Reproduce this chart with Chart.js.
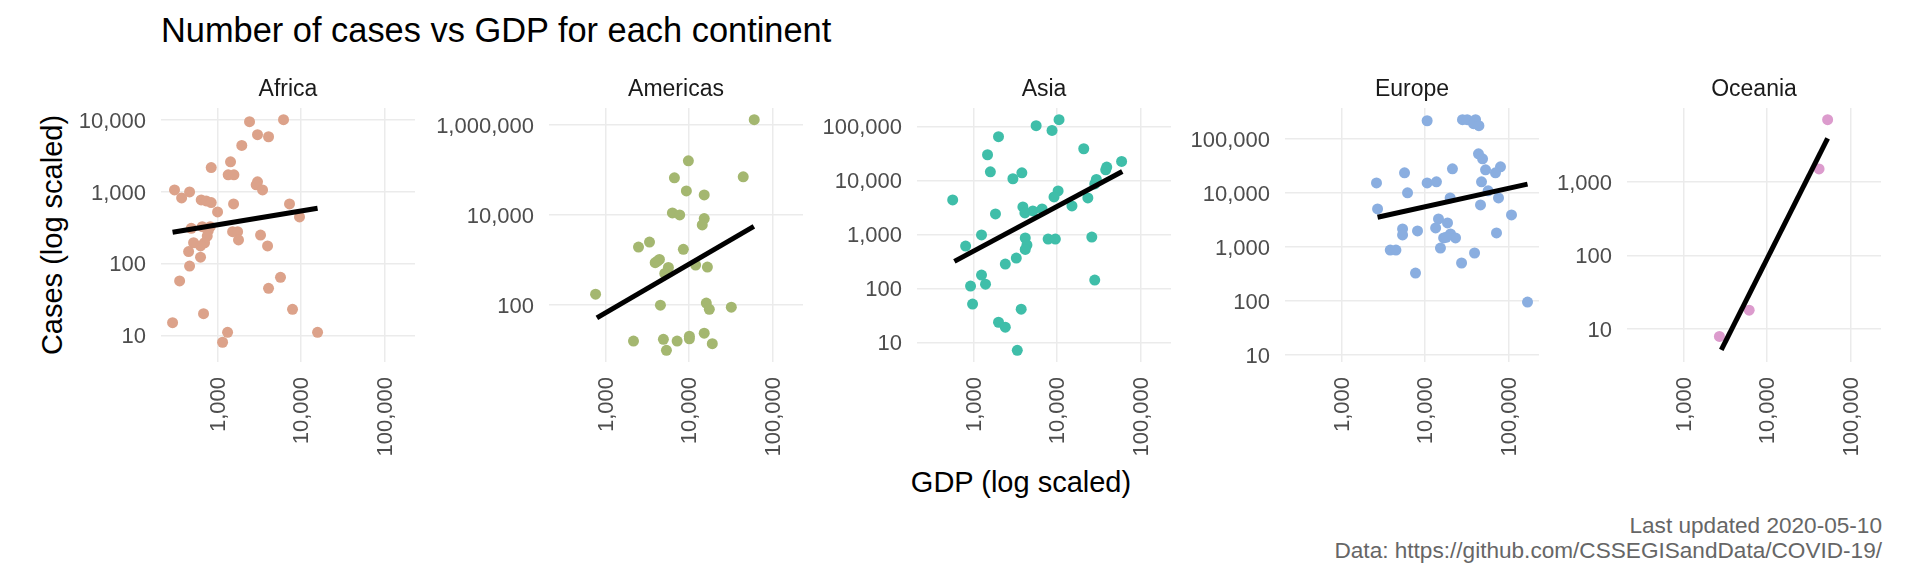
<!DOCTYPE html>
<html><head><meta charset="utf-8">
<script src="https://cdn.jsdelivr.net/npm/chart.js@4"></script>
<style>
html,body{margin:0;padding:0;background:#fff;width:1920px;height:576px;overflow:hidden;font-family:"Liberation Sans",Arial,sans-serif}
canvas{position:absolute}
.t{position:absolute;white-space:nowrap;line-height:1}
</style></head><body>
<div class="t" style="left:161px;top:13px;font-size:34.4px;color:#000">Number of cases vs GDP for each continent</div>
<div class="t" style="left:1021px;top:468px;font-size:29px;color:#000;transform:translateX(-50%)">GDP (log scaled)</div>
<div class="t" style="left:52px;top:235px;font-size:29px;color:#000;transform:translate(-50%,-50%) rotate(-90deg)">Cases (log scaled)</div>
<div class="t" style="right:38px;top:513px;font-size:22.6px;color:#666;text-align:right;line-height:25px">Last updated 2020-05-10<br>Data: https://github.com/CSSEGISandData/COVID-19/</div>
<script>
const panelNames = ["Africa","Americas","Asia","Europe","Oceania"];
const gdpTicks = [1000,10000,100000];
const gdpLimits = [210,232000];

const africaGdp = [2415,6170,3010,4080,1950,1430,839,1340,1570,3010,2900,3460,305,462,371,637,731,839,1555,7280,1000,9590,484,655,817,1514,1738,773,752,1782,3273,516,698,625,3972,450,625,462,351,5675,4080,7907,289,679,1318,1148,15780];
const africaCases = [9380,10000,6180,5790,4390,2590,2160,1710,1710,1365,1240,1055,1055,988,817,766,741,703,673,673,520,444,308,325,325,277,277,286,240,212,248,194,194,175,175,146,122,92,57,64,45,23,15,20,11,8,11];
const africaFitGdp = [289,15780];
const africaFitCases = [271,585];
const africaTicks = [10,100,1000,10000];
const africaLimits = [4.25,14550];

const americasGdp = [60400,9820,6680,44600,9290,15200,6320,7730,15200,14400,3360,2480,8550,4420,4190,3930,5660,5120,12000,16600,759,4540,16100,17500,32100,15200,10100,10100,7200,4930,2160,19000,5360];
const americasCases = [1291000,158500,66400,69800,34100,27800,11100,10000,8300,6000,2510,1945,1726,1035,950,873,687,506,774,698,175,100,111,81,90,24,20.5,18,16,17.5,16,14,10];
const americasFitGdp = [787,59800];
const americasFitCases = [52.4,5600];
const americasTicks = [100,10000,1000000];
const americasLimits = [5.5,2345000];

const asiaGdp = [10570,5620,8710,1990,20900,1470,59400,39400,38300,1590,3790,2960,29600,28300,10300,9200,562,23400,15100,3900,6620,5130,4120,1830,1245,4160,7820,9550,26100,803,4360,4160,3250,2400,1245,1390,920,28300,973,3720,1990,2400,3340];
const asiaCases = [133000,102900,84300,64300,38500,29800,22400,17600,15700,14400,13800,10700,10400,8600,6380,4930,4340,4730,3360,3220,2960,2710,2490,2390,973,855,818,818,891,607,634,526,363,281,176,119,110,142,51,41,23.5,19,7.1];
const asiaFitGdp = [589,60500];
const asiaFitCases = [315,14600];
const asiaTicks = [10,100,1000,10000,100000];
const asiaLimits = [4.31,219000];

const europeGdp = [10600,28100,32000,40300,38100,44200,43700,48900,21300,53100,80200,69800,5680,2620,10600,13700,47500,6170,57000,20000,75900,46200,2700,108600,14500,18600,5380,8130,13400,71800,5380,20200,16700,23200,17900,15300,3830,4480,39200,27400,7690,169000];
const europeCases = [215000,225000,225000,225000,189700,174000,52700,42600,27800,26700,30300,23500,23500,15300,15300,16000,16000,10000,10900,8070,8070,6000,5060,3920,3300,2780,2150,1980,2250,1815,1670,1740,1470,1470,1510,957,879,879,775,506,330,96];
const europeFitGdp = [2700,169000];
const europeFitCases = [3540,14500];
const europeTicks = [10,100,1000,10000,100000];
const europeLimits = [7.5,370000];

const oceaniaGdp = [53200,42000,6110,2690];
const oceaniaCases = [7000,1500,18,7.9];
const oceaniaFitGdp = [2830,53200];
const oceaniaFitCases = [5.2,3900];
const oceaniaTicks = [10,100,1000];
const oceaniaLimits = [3.55,10100];

const pairs = (xs,ys) => xs.map((x,i)=>({x,y:ys[i]}));
const fmt = v => Number(v).toLocaleString('en-US');
const FONT = '"Liberation Sans",Arial,sans-serif';
const LEFT_W = 160, PW = 254, TOP_H = 35, PH = 254, BOT_H = 130;

function panel(name,left,gdp,cases,fitG,fitC,yTicks,yLim,color){
  const c = document.createElement('canvas');
  c.width = LEFT_W+PW; c.height = TOP_H+PH+BOT_H;
  c.style.left = (left-LEFT_W)+'px'; c.style.top = '73px';
  c.style.width = c.width+'px'; c.style.height = c.height+'px';
  document.body.appendChild(c);
  const noPad = s => {s.paddingLeft=s.paddingRight=s.paddingTop=s.paddingBottom=0};
  new Chart(c,{
    type:'scatter',
    data:{datasets:[
      {data:pairs(fitG,fitC),showLine:true,borderColor:'#000',borderWidth:5,pointRadius:0,order:0,borderCapStyle:'butt'},
      {data:pairs(gdp,cases),backgroundColor:color,borderWidth:0,pointRadius:5.5,pointHoverRadius:5.5,order:1}
    ]},
    options:{
      responsive:false,animation:false,devicePixelRatio:1,
      layout:{padding:0,autoPadding:false},
      plugins:{
        legend:{display:false},tooltip:{enabled:false},
        title:{display:true,text:name,fullSize:false,color:'#1A1A1A',
          font:{family:FONT,size:23,weight:'normal',lineHeight:1},padding:{top:5,bottom:7}}
      },
      scales:{
        x:{type:'logarithmic',min:gdpLimits[0],max:gdpLimits[1],
          afterBuildTicks:s=>{s.ticks=gdpTicks.map(v=>({value:v,major:true}))},
          afterFit:s=>{s.height=BOT_H;noPad(s)},
          border:{display:false},
          grid:{color:'#EBEBEB',lineWidth:1.5,drawTicks:false},
          ticks:{callback:fmt,color:'#4D4D4D',font:{family:FONT,size:22},padding:15,labelOffset:1,
            minRotation:90,maxRotation:90,autoSkip:false}},
        y:{type:'logarithmic',min:yLim[0],max:yLim[1],
          afterBuildTicks:s=>{s.ticks=yTicks.map(v=>({value:v,major:true}))},
          afterFit:s=>{s.width=LEFT_W;noPad(s)},
          border:{display:false},
          grid:{color:'#EBEBEB',lineWidth:1.5,drawTicks:false},
          ticks:{callback:fmt,color:'#4D4D4D',font:{family:FONT,size:22},padding:15,labelOffset:2,autoSkip:false}}
      }
    }
  });
}
panel(panelNames[0],161,africaGdp,africaCases,africaFitGdp,africaFitCases,africaTicks,africaLimits,'#DCA28A');
panel(panelNames[1],549,americasGdp,americasCases,americasFitGdp,americasFitCases,americasTicks,americasLimits,'#A4B770');
panel(panelNames[2],917,asiaGdp,asiaCases,asiaFitGdp,asiaFitCases,asiaTicks,asiaLimits,'#3FBEA9');
panel(panelNames[3],1285,europeGdp,europeCases,europeFitGdp,europeFitCases,europeTicks,europeLimits,'#8AAEE0');
panel(panelNames[4],1627,oceaniaGdp,oceaniaCases,oceaniaFitGdp,oceaniaFitCases,oceaniaTicks,oceaniaLimits,'#DC9BCD');
</script>
</body></html>
